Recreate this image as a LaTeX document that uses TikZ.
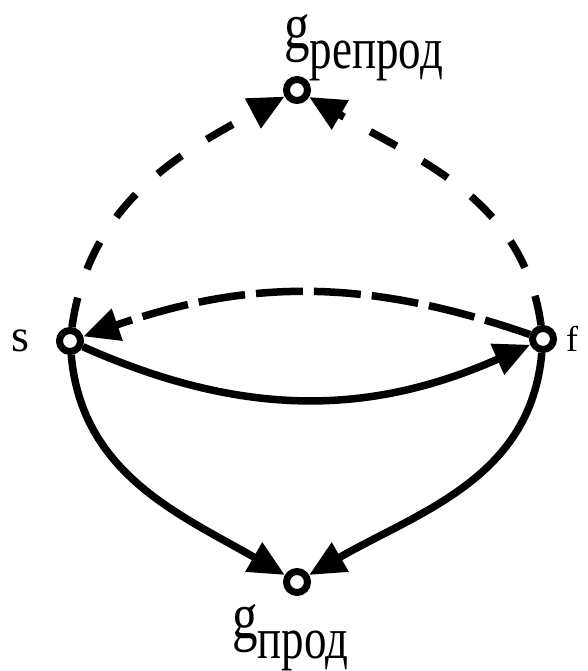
\documentclass[tikz,border=0pt]{standalone}
\usepackage{fontspec}
\setmainfont{Liberation Serif}
\usepackage{graphicx}
\usetikzlibrary{arrows.meta, positioning}

\newcommand{\glab}[1]{\scalebox{1}[1.3]{\fontsize{51}{51}\selectfont g\raisebox{-15pt}{\fontsize{45}{45}\selectfont #1}}}

\begin{document}
\begin{tikzpicture}[x=1pt, y=1pt,
    vert/.style={circle, draw, line width=7pt, fill=white, minimum size=21pt, inner sep=0pt},
    lbl/.style={inner sep=0pt},
    arc/.style={line width=7.5pt, -{Triangle[length=36pt, width=32pt]}},
    dsh/.style={arc, dash pattern=on 30pt off 30pt},
    ldsh/.style={arc, dash pattern=on 47pt off 11pt}]
  \useasboundingbox (0,0) rectangle (588,671);
  % vertices
  \node[vert] (s) at (70,330) {};
  \node[vert] (f) at (543,332) {};
  \node[vert] (grep) at (297,581) {};
  \node[vert] (gpr) at (297,89) {};
  % labels
  \node[lbl, font=\fontsize{46}{46}\selectfont, left=26pt of s] (sl) {s};
  \node[lbl, font=\fontsize{36}{36}\selectfont, right=9pt of f] (fl) {f};
  \node[anchor=base west, inner sep=0pt] (grepl) at (284,622) {\glab{репрод}};
  \node[anchor=base west, inner sep=0pt] (gprl) at (232,32) {\glab{прод}};
  % arcs
  \draw[dsh] (s) to[out=82, in=208] (grep);
  \draw[dsh] (f) to[out=98, in=-30] (grep);
  \draw[ldsh] (f) to[out=161, in=19] (s);
  \draw[arc] (s) to[out=-24, in=204] (f);
  \draw[arc] (s) to[out=-85, in=150] (gpr);
  \draw[arc] (f) to[out=-95, in=30] (gpr);
\end{tikzpicture}
\end{document}
